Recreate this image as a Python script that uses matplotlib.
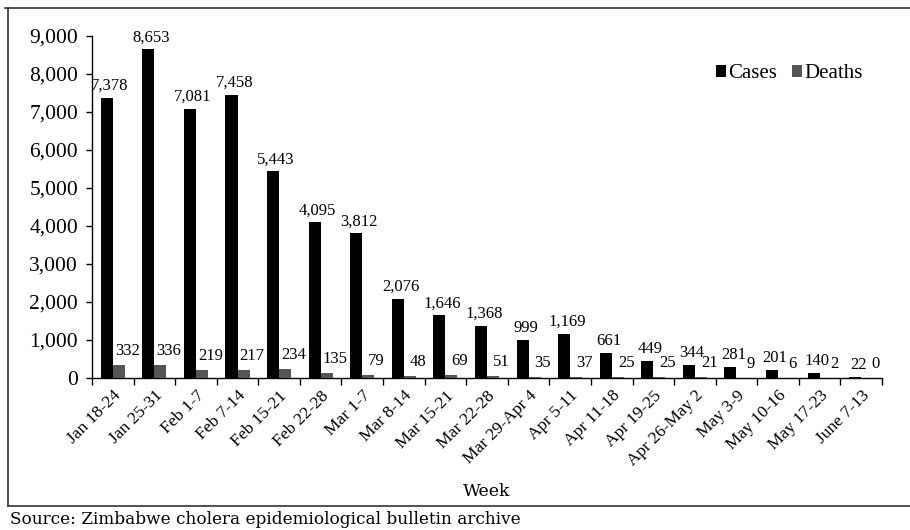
import matplotlib
matplotlib.use("Agg")
import matplotlib.pyplot as plt
from matplotlib.lines import Line2D
from matplotlib.patches import Patch
import numpy as np

weeks = ["Jan 18-24", "Jan 25-31", "Feb 1-7", "Feb 7-14", "Feb 15-21", "Feb 22-28",
         "Mar 1-7", "Mar 8-14", "Mar 15-21", "Mar 22-28", "Mar 29-Apr 4", "Apr 5-11",
         "Apr 11-18", "Apr 19-25", "Apr 26-May 2", "May 3-9", "May 10-16", "May 17-23",
         "June 7-13"]
cases = [7378, 8653, 7081, 7458, 5443, 4095, 3812, 2076, 1646, 1368, 999, 1169,
         661, 449, 344, 281, 201, 140, 22]
deaths = [332, 336, 219, 217, 234, 135, 79, 48, 69, 51, 35, 37,
          25, 25, 21, 9, 6, 2, 0]
yticks = [0, 1000, 2000, 3000, 4000, 5000, 6000, 7000, 8000, 9000]

W, H = 910, 530
fig = plt.figure(figsize=(W / 100, H / 100), dpi=100)
serif = ["Liberation Serif", "DejaVu Serif"]
serif2 = ["DejaVu Serif"]

ax = fig.add_axes([92 / W, 1 - 378 / H, (882 - 92) / W, (378 - 36) / H])
x = np.arange(len(weeks))
bw = 0.29
ax.bar(x - bw / 2, cases, width=bw, color="black", zorder=3)
ax.bar(x + bw / 2, deaths, width=bw, color="#555555", zorder=3)

for xi, v in zip(x, cases):
    ax.annotate(f"{v:,}", (xi - bw / 2 + 0.07, v), xytext=(0, 12), textcoords="offset pixels",
                ha="center", va="center", fontsize=12, family=serif)
for xi, v in zip(x, deaths):
    ax.annotate(f"{v:,}", (xi + bw / 2 + 0.2, v), xytext=(0, 14), textcoords="offset pixels",
                ha="center", va="center", fontsize=12, family=serif)

ax.set_xlim(-0.5, len(weeks) - 0.5)
ax.set_ylim(0, 9000)
ax.set_yticks(yticks)
ax.set_yticklabels([f"{t:,}" for t in yticks], fontsize=15.5, family=serif)
ax.set_xticks(x)
ax.set_xticklabels(weeks, rotation=45, ha="right", rotation_mode="anchor",
                   fontsize=12.5, family=serif)
ax.tick_params(axis="x", which="major", length=0, pad=7)
ax.set_xticks(np.arange(-0.5, len(weeks)), minor=True)
ax.tick_params(axis="x", which="minor", length=5, direction="out", width=1)
ax.tick_params(axis="y", length=4, direction="out", width=1, pad=6)
for s in ["top", "right"]:
    ax.spines[s].set_visible(False)
for s in ["left", "bottom"]:
    ax.spines[s].set_linewidth(1.0)
    ax.spines[s].set_color("black")
ax.set_xlabel("Week", fontsize=12.5, family=serif2, va="center")
ax.xaxis.set_label_coords(0.5, (378 - 492) / (378 - 36))

handles = [Patch(facecolor="black"), Patch(facecolor="#555555")]
ax.legend(handles, ["Cases", "Deaths"], ncol=2, frameon=False,
          loc="center", bbox_to_anchor=((789 - 92) / 790, (378 - 74) / 342),
          handlelength=0.5, handleheight=0.5, handletextpad=0.1,
          columnspacing=0.7, prop={"family": serif, "size": 15})

# frame lines
fig.add_artist(Line2D([8 / W, 8 / W], [1 - 8 / H, 1 - 506 / H], color="#333333", lw=1.2))
fig.add_artist(Line2D([5 / W, 1], [1 - 8 / H, 1 - 8 / H], color="#333333", lw=1.2))
fig.add_artist(Line2D([8 / W, 1], [1 - 506 / H, 1 - 506 / H], color="#333333", lw=1.2))
fig.text(10 / W, 1 - 519 / H, "Source: Zimbabwe cholera epidemiological bulletin archive",
         ha="left", va="center", fontsize=12.2, family=serif2)

fig.savefig("out.png", dpi=100)
